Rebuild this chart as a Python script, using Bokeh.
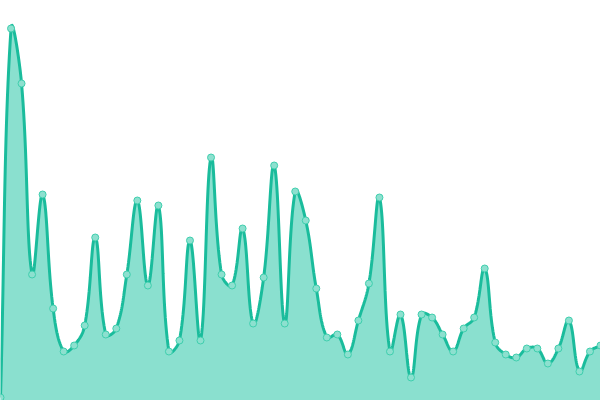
import numpy as np
from bokeh.plotting import figure
from bokeh.embed import file_html
from bokeh.resources import INLINE
from bokeh.models import ColumnDataSource

# data (index -> value)
index = list(range(58))
values = [3, 372, 317, 126, 206, 92, 49, 55, 75, 163,
          66, 72, 126, 200, 115, 195, 49, 60, 160, 60,
          243, 126, 115, 172, 77, 123, 235, 77, 209, 180,
          112, 63, 66, 46, 80, 117, 203, 49, 86, 23,
          86, 83, 66, 49, 72, 83, 132, 58, 46, 43,
          52, 52, 37, 52, 80, 29, 49, 55]

W, H = 600, 400
XMAX = len(index) - 1
YMAX = 400
TENSION = 0.4

# Chart.js-style spline control points (computed in pixel space)
sx = W / XMAX
sy = H / YMAX
px = np.array(index, float) * sx
py = np.array(values, float) * sy
n = len(px)
cp_prev = np.zeros((n, 2))
cp_next = np.zeros((n, 2))
for i in range(n):
    pi = max(i - 1, 0)
    ni = min(i + 1, n - 1)
    d01 = np.hypot(px[i] - px[pi], py[i] - py[pi])
    d12 = np.hypot(px[ni] - px[i], py[ni] - py[i])
    tot = d01 + d12 if d01 + d12 else 1
    fa = TENSION * d01 / tot
    fb = TENSION * d12 / tot
    dx = px[ni] - px[pi]
    dy = py[ni] - py[pi]
    cp_prev[i] = (px[i] - fa * dx, py[i] - fa * dy)
    cp_next[i] = (px[i] + fb * dx, py[i] + fb * dy)
cp_prev[:, 1] = np.clip(cp_prev[:, 1], 0, H)
cp_next[:, 1] = np.clip(cp_next[:, 1], 0, H)

cx, cy = [], []
t = np.linspace(0, 1, 25)
for i in range(n - 1):
    p0 = np.array([px[i], py[i]])
    p1 = cp_next[i]
    p2 = cp_prev[i + 1]
    p3 = np.array([px[i + 1], py[i + 1]])
    seg = ((1 - t)[:, None] ** 3 * p0 + 3 * (1 - t)[:, None] ** 2 * t[:, None] * p1
           + 3 * (1 - t)[:, None] * t[:, None] ** 2 * p2 + t[:, None] ** 3 * p3)
    if i > 0:
        seg = seg[1:]
    cx.extend(seg[:, 0] / sx)
    cy.extend(seg[:, 1] / sy)

p = figure(width=W, height=H, x_range=(0, XMAX), y_range=(0, YMAX),
           output_backend="svg", toolbar_location=None, min_border=0,
           styles={"position": "absolute", "left": "0px", "top": "0px"})
p.axis.visible = False
p.grid.visible = False
p.outline_line_color = None
p.background_fill_color = "white"
p.border_fill_color = "white"

p.varea(x=cx, y1=0, y2=cy, fill_color="#8ae0cf", fill_alpha=1)
p.line(cx, cy, line_color="#1abc9c", line_width=3)
src = ColumnDataSource(dict(x=index, y=values))
p.scatter("x", "y", source=src, size=7, fill_color="#8de0cf",
          line_color="#3fcfae", line_width=1)

open("out.html", "w").write(file_html(p, INLINE))
